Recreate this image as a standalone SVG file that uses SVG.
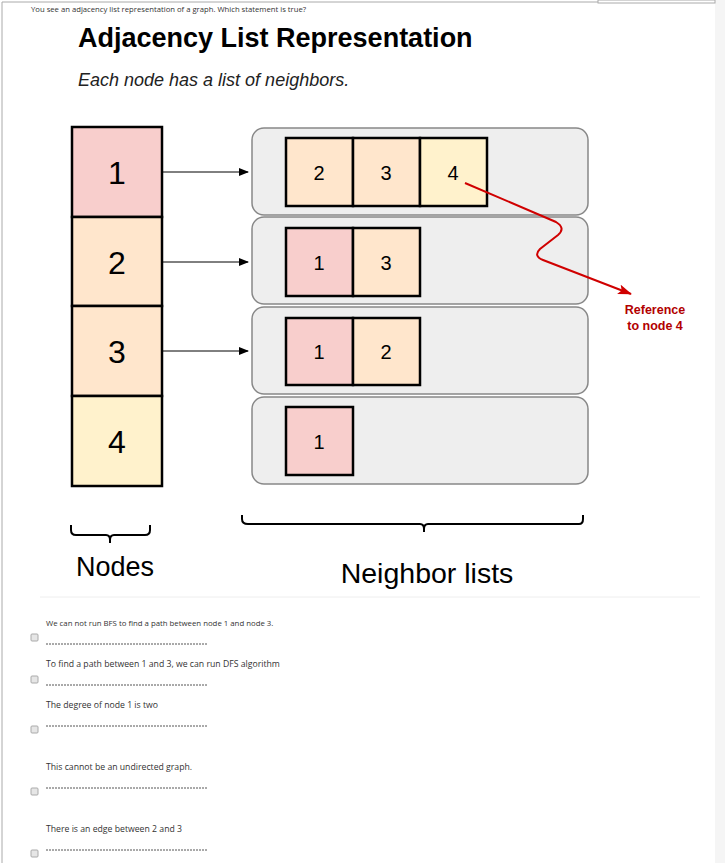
<svg xmlns="http://www.w3.org/2000/svg" width="725" height="863" viewBox="0 0 725 863">
<style>
.h{font-family:"Liberation Sans",Arial,sans-serif}
.o{font-family:"Open Sans","DejaVu Sans",sans-serif;font-size:8.7px;fill:#333}
.cell{stroke:#000;stroke-width:2.5}
.lst{fill:#eeeeee;stroke:#888;stroke-width:1.5}
.n{font-family:"Liberation Sans",Arial,sans-serif;font-size:32px;text-anchor:middle}
.m{font-family:"Liberation Sans",Arial,sans-serif;font-size:20px;text-anchor:middle}
.cb{fill:#e6e6e6;stroke:#aaa;stroke-width:1}
.d{stroke:#555;stroke-width:1;stroke-dasharray:2 1}
</style>
<defs>
<marker id="ah" markerWidth="10" markerHeight="8" refX="9" refY="4" orient="auto" markerUnits="userSpaceOnUse"><path d="M0,0L10,4L0,8z" fill="#000"/></marker>
<marker id="rh" markerWidth="14" markerHeight="10" refX="13" refY="5" orient="auto" markerUnits="userSpaceOnUse"><path d="M0,0L14,5L0,10L3,5z" fill="#d00000"/></marker>
</defs>
<rect width="725" height="863" fill="#fff"/>
<rect x="715" y="0" width="10" height="863" fill="#f5f5f5"/>
<path d="M2,863V2H715" fill="none" stroke="#aaa" stroke-width="1"/>
<rect x="598" y="0" width="117" height="3" fill="#fff" stroke="#aaa"/>
<text x="31" y="12" class="o" style="font-size:7.7px">You see an adjacency list representation of a graph. Which statement is true?</text>
<text x="78" y="47" class="h" font-size="27" font-weight="bold">Adjacency List Representation</text>
<text x="78" y="86" class="h" font-size="18" font-style="italic" fill="#222">Each node has a list of neighbors.</text>
<g id="node1"><rect x="72" y="127" width="90" height="90" fill="#f8cecc" class="cell"/><text x="117" y="184" class="n">1</text></g>
<g id="node2"><rect x="72" y="217" width="90" height="89" fill="#ffe6cc" class="cell"/><text x="117" y="274" class="n">2</text></g>
<g id="node3"><rect x="72" y="306" width="90" height="90" fill="#ffe6cc" class="cell"/><text x="117" y="363" class="n">3</text></g>
<g id="node4"><rect x="72" y="396" width="90" height="90" fill="#fff2cc" class="cell"/><text x="117" y="453" class="n">4</text></g>
<g id="list1"><rect x="252" y="128" width="336" height="87" rx="12" class="lst"/>
<rect x="286" y="138" width="67" height="68" fill="#ffe6cc" class="cell"/><text x="319" y="180" class="m">2</text>
<rect x="353" y="138" width="67" height="68" fill="#ffe6cc" class="cell"/><text x="386" y="180" class="m">3</text>
<rect x="420" y="138" width="67" height="68" fill="#fff2cc" class="cell"/><text x="453" y="180" class="m">4</text></g>
<g id="list2"><rect x="252" y="217" width="336" height="87" rx="12" class="lst"/>
<rect x="286" y="228" width="67" height="68" fill="#f8cecc" class="cell"/><text x="319" y="270" class="m">1</text>
<rect x="353" y="228" width="67" height="68" fill="#ffe6cc" class="cell"/><text x="386" y="270" class="m">3</text></g>
<g id="list3"><rect x="252" y="307" width="336" height="87" rx="12" class="lst"/>
<rect x="286" y="318" width="67" height="67" fill="#f8cecc" class="cell"/><text x="319" y="359" class="m">1</text>
<rect x="353" y="318" width="67" height="67" fill="#ffe6cc" class="cell"/><text x="386" y="359" class="m">2</text></g>
<g id="list4"><rect x="252" y="397" width="336" height="87" rx="12" class="lst"/>
<rect x="286" y="407" width="67" height="68" fill="#f8cecc" class="cell"/><text x="319" y="449" class="m">1</text></g>
<g id="connectors" fill="none">
<path d="M163,172H248" stroke="#000" stroke-width="1" marker-end="url(#ah)"/>
<path d="M163,262H248" stroke="#000" stroke-width="1" marker-end="url(#ah)"/>
<path d="M163,351H248" stroke="#000" stroke-width="1" marker-end="url(#ah)"/>
<path d="M465,183L556,222Q566,228 558,235L540,249Q533,256 543,260L631,294" stroke="#d00000" stroke-width="2" marker-end="url(#rh)"/>
</g>
<text x="655" y="314" class="h" font-size="12.5" font-weight="bold" fill="#b20000" text-anchor="middle">Reference</text>
<text x="655" y="330" class="h" font-size="12.5" font-weight="bold" fill="#b20000" text-anchor="middle">to node 4</text>
<path d="M71,525V530Q71,535 76,535H106Q110,535 110,540V543M110,540Q110,535 114,535H145Q150,535 150,530V525" fill="none" stroke="#000" stroke-width="2"/>
<path d="M242,515V519Q242,524 248,524H420Q424,524 424,529V532M424,529Q424,524 428,524H579Q583,524 583,519V515" fill="none" stroke="#000" stroke-width="2"/>
<text x="115" y="576" class="h" font-size="27" text-anchor="middle">Nodes</text>
<text x="427" y="583" class="h" font-size="28.5" text-anchor="middle">Neighbor lists</text>
<line x1="40" y1="597" x2="700" y2="597" stroke="#eee"/>
<text x="46" y="626" class="o" style="font-size:7.8px">We can not run BFS to find a path between node 1 and node 3.</text>
<rect x="31" y="634" width="7" height="7" rx="1" class="cb"/><line x1="46" y1="644" x2="208" y2="644" class="d"/>
<text x="46" y="667" class="o">To find a path between 1 and 3, we can run DFS algorithm</text>
<rect x="31" y="676" width="7" height="7" rx="1" class="cb"/><line x1="46" y1="685" x2="208" y2="685" class="d"/>
<text x="46" y="708" class="o">The degree of node 1 is two</text>
<rect x="31" y="726" width="7" height="7" rx="1" class="cb"/><line x1="46" y1="726" x2="208" y2="726" class="d"/>
<text x="46" y="770" class="o">This cannot be an undirected graph.</text>
<rect x="31" y="788" width="7" height="7" rx="1" class="cb"/><line x1="46" y1="788" x2="208" y2="788" class="d"/>
<text x="46" y="832" class="o">There is an edge between 2 and 3</text>
<rect x="31" y="850" width="7" height="7" rx="1" class="cb"/><line x1="46" y1="850" x2="208" y2="850" class="d"/>
</svg>
